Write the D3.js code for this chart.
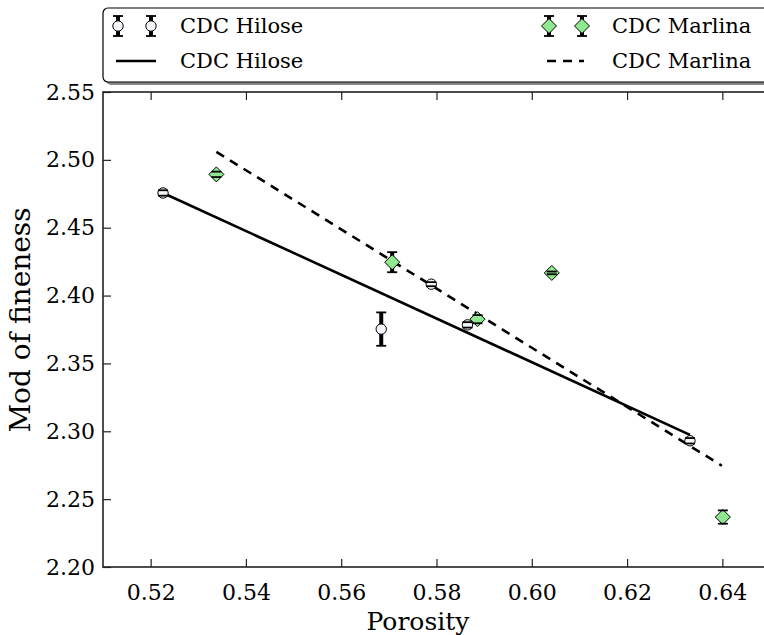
<!DOCTYPE html>
<html>
<head>
<meta charset="utf-8">
<script src="https://cdn.jsdelivr.net/npm/d3@7/dist/d3.min.js"></script>
<style>
  body { margin: 0; background: #fff; }
  svg text { font-family: "DejaVu Serif", serif; fill: #000; }
</style>
</head>
<body>
<svg width="764" height="635"></svg>
<script>
// data
var hiloseX   = [0.5226, 0.5684, 0.5789, 0.5865, 0.6332];
var hiloseY   = [2.4756, 2.3753, 2.4084, 2.3784, 2.2930];
var hiloseErr = [0.002, 0.0123, 0.0015, 0.002, 0.002];

var marlinaX   = [0.5338, 0.5707, 0.5886, 0.6042, 0.6401];
var marlinaY   = [2.4893, 2.4246, 2.3826, 2.4167, 2.2368];
var marlinaErr = [0.002, 0.0074, 0.003, 0.001, 0.0049];

// fitted lines (end points)
var hiloseFitX  = [0.5226, 0.6332];
var hiloseFitY  = [2.4756, 2.2974];
var marlinaFitX = [0.5338, 0.6399];
var marlinaFitY = [2.5059, 2.2746];

var xTicks = [0.52, 0.54, 0.56, 0.58, 0.60, 0.62, 0.64];
var yTicks = [2.20, 2.25, 2.30, 2.35, 2.40, 2.45, 2.50, 2.55];

var seriesNames = ['CDC Hilose', 'CDC Marlina'];

// plot box (note: "top" is a reserved window property, so use other names)
var plotL = 103, plotT = 92, plotR = 770, plotB = 567;

var svg = d3.select('svg');

var x = d3.scaleLinear().domain([0.51, 0.65]).range([plotL, plotR]);
var y = d3.scaleLinear().domain([2.20, 2.55]).range([plotB, plotT]);

// axes, ticks pointing inward
var fmt = d3.format('.2f');
svg.append('g')
    .attr('class', 'axis')
    .attr('transform', 'translate(0,' + plotB + ')')
    .call(d3.axisBottom(x).tickValues(xTicks).tickFormat(fmt).tickSizeInner(-8).tickSizeOuter(0).tickPadding(17));
svg.append('g')
    .attr('class', 'axis')
    .attr('transform', 'translate(0,' + plotT + ')')
    .call(d3.axisTop(x).tickValues(xTicks).tickFormat('').tickSizeInner(-8).tickSizeOuter(0));
svg.append('g')
    .attr('class', 'axis')
    .attr('transform', 'translate(' + plotL + ',0)')
    .call(d3.axisLeft(y).tickValues(yTicks).tickFormat(fmt).tickSizeInner(-8).tickSizeOuter(0).tickPadding(8));

svg.selectAll('.axis path').remove();
svg.selectAll('.axis line').attr('stroke', '#222').attr('stroke-width', 1.2);
svg.selectAll('.axis text')
    .attr('font-family', '"DejaVu Serif", serif')
    .attr('font-size', 22)
    .attr('fill', '#000');

// frame
svg.append('rect')
    .attr('x', plotL).attr('y', plotT)
    .attr('width', plotR - plotL).attr('height', plotB - plotT)
    .attr('fill', 'none').attr('stroke', '#222').attr('stroke-width', 1.6);

// axis titles
svg.append('text')
    .attr('x', 418).attr('y', 630)
    .attr('text-anchor', 'middle').attr('font-size', 25)
    .text('Porosity');
svg.append('text')
    .attr('transform', 'translate(30,320) rotate(-90)')
    .attr('text-anchor', 'middle').attr('font-size', 28)
    .text('Mod of fineness');

// fit lines
var line = d3.line().x(function(d) { return x(d[0]); }).y(function(d) { return y(d[1]); });
svg.append('path')
    .datum(d3.zip(hiloseFitX, hiloseFitY))
    .attr('d', line).attr('fill', 'none')
    .attr('stroke', '#000').attr('stroke-width', 2.6);
svg.append('path')
    .datum(d3.zip(marlinaFitX, marlinaFitY))
    .attr('d', line).attr('fill', 'none')
    .attr('stroke', '#000').attr('stroke-width', 2.6)
    .attr('stroke-dasharray', '9,7');

// marker helpers
function drawCircle(g) {
    g.append('circle').attr('r', 5.2)
        .attr('fill', '#f5f5fc').attr('stroke', '#000').attr('stroke-width', 1);
}
function drawDiamond(g) {
    g.append('path').attr('d', 'M0,-7.5L7.5,0L0,7.5L-7.5,0Z')
        .attr('fill', '#8fe88f').attr('stroke', '#000').attr('stroke-width', 1);
}
function drawBar(g, h) {
    g.append('line').attr('x1', 0).attr('x2', 0).attr('y1', -h).attr('y2', h)
        .attr('stroke', '#000').attr('stroke-width', 4);
}
function drawCaps(g, h) {
    [-h, h].forEach(function(c) {
        g.append('line').attr('x1', -5).attr('x2', 5).attr('y1', c).attr('y2', c)
            .attr('stroke', '#000').attr('stroke-width', 1.8);
    });
}

function errorSeries(xs, ys, es, marker) {
    var pts = d3.zip(xs, ys, es);
    var g = svg.append('g');
    var p = g.selectAll('g.pt').data(pts).enter().append('g')
        .attr('class', 'pt')
        .attr('transform', function(d) { return 'translate(' + x(d[0]) + ',' + y(d[1]) + ')'; });
    p.each(function(d) {
        var h = y(d[1] - d[2]) - y(d[1]);
        var s = d3.select(this);
        drawBar(s, h);
        marker(s);
        drawCaps(s, h);
    });
}

errorSeries(hiloseX, hiloseY, hiloseErr, drawCircle);
errorSeries(marlinaX, marlinaY, marlinaErr, drawDiamond);

// legend
var lg = svg.append('g');
lg.append('rect')
    .attr('x', 106).attr('y', 11).attr('width', 700).attr('height', 74).attr('rx', 5)
    .attr('fill', '#888');
lg.append('rect')
    .attr('x', 103).attr('y', 8).attr('width', 700).attr('height', 74).attr('rx', 5)
    .attr('fill', '#fff').attr('stroke', '#000').attr('stroke-width', 1.2);

var legendCols = [
    { name: seriesNames[0], marker: drawCircle, sx: [118, 151], lx: [116, 156], tx: 180, dash: null },
    { name: seriesNames[1], marker: drawDiamond, sx: [549, 582], lx: [547, 584], tx: 612, dash: '9,7' }
];
legendCols.forEach(function(c) {
    c.sx.forEach(function(sx) {
        var s = lg.append('g').attr('transform', 'translate(' + sx + ',26)');
        drawBar(s, 10);
        c.marker(s);
        drawCaps(s, 10);
    });
    lg.append('text').attr('x', c.tx).attr('y', 26).attr('dy', '0.35em')
        .attr('font-size', 21).text(c.name);
    lg.append('line')
        .attr('x1', c.lx[0]).attr('x2', c.lx[1]).attr('y1', 61).attr('y2', 61)
        .attr('stroke', '#000').attr('stroke-width', 2.6)
        .attr('stroke-dasharray', c.dash);
    lg.append('text').attr('x', c.tx).attr('y', 61).attr('dy', '0.35em')
        .attr('font-size', 21).text(c.name);
});
</script>
</body>
</html>
